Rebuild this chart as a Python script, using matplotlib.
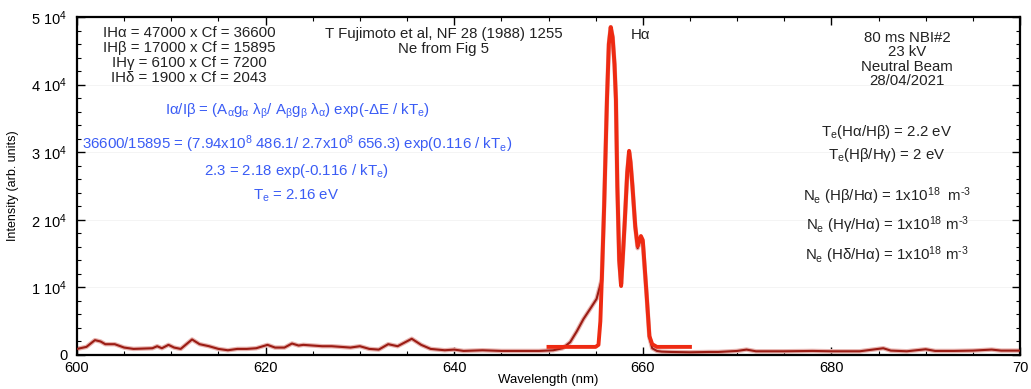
import matplotlib
matplotlib.use("Agg")
import matplotlib.pyplot as plt
from matplotlib.ticker import MultipleLocator

plt.rcParams['font.family'] = ['Liberation Sans', 'DejaVu Sans']
plt.rcParams['mathtext.fontset'] = 'custom'
plt.rcParams['mathtext.rm'] = 'Liberation Sans'
plt.rcParams['mathtext.it'] = 'Liberation Sans'
plt.rcParams['mathtext.default'] = 'regular'

# Measured spectrum (wavelength nm, intensity arb. units)
meas_wl = [600, 601, 601.9, 602.5, 603, 604, 605, 606, 607, 608, 608.5, 609, 609.7,
           610.3, 611, 612.2, 613, 614, 615, 616, 617, 618, 619, 620.2, 621, 622,
           622.8, 623.5, 624, 625, 626, 627, 628, 629, 630, 631, 632, 633, 634,
           635.5, 636.5, 637.5, 639, 640, 641, 643, 645, 647, 649, 650.5, 651.5,
           652.3, 653, 653.7, 654.5, 655.1, 655.65, 655.9, 656.2, 656.4, 656.6,
           656.8, 657.0, 657.15, 657.3, 657.5, 657.7, 657.9, 658.1, 658.35, 658.55,
           658.7, 658.9, 659.2, 659.45, 659.8, 660.0, 660.4, 660.7, 661.0, 661.5,
           662, 663, 665, 667, 668, 670, 671, 672, 675, 678, 680, 683, 685.5, 686.3,
           688, 690, 691, 693, 695, 697, 698, 700]
meas_int = [900, 1200, 2200, 2000, 1600, 1600, 1100, 900, 950, 1000, 1300, 1000, 1500,
            1100, 900, 2300, 1600, 1300, 900, 700, 900, 900, 1000, 1500, 1100, 1100,
            1700, 1400, 1500, 1400, 1300, 1300, 1200, 1100, 1300, 900, 800, 1600, 1300,
            2400, 1500, 900, 700, 800, 600, 700, 600, 600, 600, 700, 1000,
            1900, 3500, 5300, 7000, 8300, 11200, 22000, 37800, 46000, 48500,
            47000, 43000, 37800, 25000, 14000, 10500, 15000, 20100, 27000, 30000,
            28500, 25000, 19000, 15800, 17300, 16500, 9000, 2600, 1000, 600,
            500, 450, 400, 450, 450, 600, 800, 550, 550, 600, 550, 550, 1000, 650,
            550, 850, 600, 600, 650, 800, 650, 650]

# Fitted line profile
fit_wl = [650, 655, 655.3, 655.5, 655.65, 655.9, 656.2, 656.4, 656.6, 656.8, 657.0,
          657.15, 657.3, 657.5, 657.7, 657.9, 658.1, 658.35, 658.55, 658.7, 658.9,
          659.2, 659.45, 659.8, 660.0, 660.4, 660.7, 661.0, 661.5, 665]
fit_int = [1200, 1200, 1500, 5000, 11000, 22000, 37800, 46000, 48500, 47000, 43000,
           37800, 25000, 14000, 10200, 15000, 20100, 27000, 30200, 28500, 25000,
           19000, 16100, 17600, 17000, 9000, 2800, 1600, 1200, 1200]

fig = plt.figure(figsize=(10.31, 3.89), dpi=100)
ax = fig.add_axes([77/1031, 34/389, (1020-77)/1031, (355-17)/389])

ax.plot(meas_wl, meas_int, color='#e8b4b0', lw=3.2, solid_capstyle='round', zorder=2)
ax.plot(meas_wl, meas_int, color='#9b1c14', lw=1.5, zorder=3)
ax.plot(fit_wl, fit_int, color='#ee2a12', lw=2.8, zorder=4)

ax.set_xlim(600, 700)
ax.set_ylim(0, 50000)
ax.set_xticks([600, 620, 640, 660, 680, 700])
ax.set_xticklabels(['600', '620', '640', '660', '680', '70'])
ax.xaxis.set_minor_locator(MultipleLocator(5))
ax.set_yticks([0, 10000, 20000, 30000, 40000, 50000])
ax.set_yticklabels(['0', '1 10$^4$', '2 10$^4$', '3 10$^4$', '4 10$^4$', '5 10$^4$'])
ax.yaxis.set_minor_locator(MultipleLocator(2000))
ax.tick_params(which='both', direction='in', top=True, right=True, labelsize=10.5)
ax.tick_params(which='major', length=6, width=1)
ax.tick_params(which='minor', length=3, width=0.8)
ax.tick_params(axis='y', pad=7)
ax.tick_params(axis='x', pad=4)
for s in ax.spines.values():
    s.set_linewidth(1.6)
ax.grid(axis='y', color='#f3f3f3', lw=0.6, zorder=0)

ax.set_ylabel('Intensity (arb. units)', fontsize=9, labelpad=9)


def ftxt(x, y, s, **kw):
    fig.text(x/1031, 1 - y/389, s, ha='center', va='center', **kw)


ftxt(548, 380, 'Wavelength (nm)', fontsize=9.5)

k = dict(fontsize=10.8, color='#222222')
for i, s in enumerate(['IHα = 47000 x Cf = 36600', 'IHβ = 17000 x Cf = 15895',
                       'IHγ = 6100 x Cf = 7200', 'IHδ = 1900 x Cf = 2043']):
    ftxt(189, 33 + 15*i, s, **k)
ftxt(444, 34, 'T Fujimoto et al, NF 28 (1988) 1255', **k)
ftxt(444, 49, 'Ne from Fig 5', **k)
ftxt(641, 35, 'Hα', **k)
for i, s in enumerate(['80 ms NBI#2', '23 kV', 'Neutral Beam', '28/04/2021']):
    ftxt(907, 38 + 14.3*i, s, **k)
ftxt(887, 132, 'T$_e$(Hα/Hβ) = 2.2 eV', **k)
ftxt(887, 155, 'T$_e$(Hβ/Hγ) = 2 eV', **k)
ftxt(887, 196, 'N$_e$ (Hβ/Hα) = 1x10$^{18}$  m$^{‐3}$', **k)
ftxt(887, 225, 'N$_e$ (Hγ/Hα) = 1x10$^{18}$ m$^{‐3}$', **k)
ftxt(887, 255, 'N$_e$ (Hδ/Hα) = 1x10$^{18}$ m$^{‐3}$', **k)

b = dict(fontsize=10.8, color='#3a5cf5')
ftxt(297, 111, 'Iα/Iβ = (A$_α$g$_α$ λ$_β$/ A$_β$g$_β$ λ$_α$) exp(-ΔE / kT$_e$)', **b)
ftxt(297, 144, '36600/15895 = (7.94x10$^8$ 486.1/ 2.7x10$^8$ 656.3) exp(0.116 / kT$_e$)', **b)
ftxt(296, 171, '2.3 = 2.18 exp(-0.116 / kT$_e$)', **b)
ftxt(296, 196, 'T$_e$ = 2.16 eV', **b)

fig.savefig('out.png', dpi=100)
